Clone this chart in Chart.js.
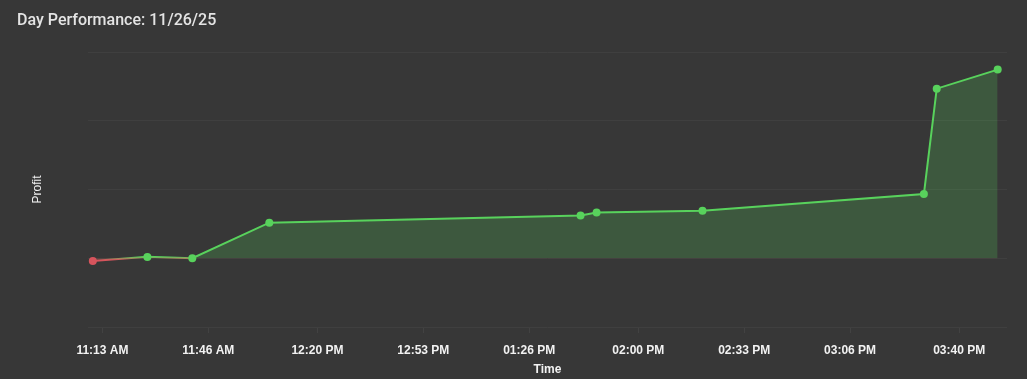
<!DOCTYPE html>
<html>
<head>
<meta charset="utf-8">
<title>Day Performance</title>
<script src="https://cdn.jsdelivr.net/npm/chart.js@4.4.1/dist/chart.umd.min.js"></script>
<style>
    html, body { margin: 0; padding: 0; background: #373737; }
    #perfCanvas { display: block; }
</style>
</head>
<body>
<canvas id="perfCanvas" width="1027" height="379"></canvas>
<script>
// trade times (24h) and running profit after each trade
const tradeTimes = ["11:10", "11:27", "11:41", "12:05", "13:42", "13:47", "14:20", "15:29", "15:33", "15:52"];
const profitValues = [-4, 2, 0, 51.7, 62.3, 66.7, 69.1, 93.4, 246.7, 274.4];

// x axis tick labels as shown under the chart
const tickLabels = ["11:13 AM", "11:46 AM", "12:20 PM", "12:53 PM", "01:26 PM", "02:00 PM", "02:33 PM", "03:06 PM", "03:40 PM"];

// axis range (minutes after midnight / profit)
const xRange = [668.5, 954.9];
const yRange = [-100, 300];

const GREEN = "rgb(88, 210, 92)";
const RED = "rgb(214, 84, 92)";

function toMinutes(str) {
    const parts = str.split(":").map(Number);
    return parts[0] * 60 + parts[1];
}

function labelToMinutes(label) {
    const [hm, ampm] = label.split(" ");
    let [h, m] = hm.split(":").map(Number);
    if (ampm === "PM" && h !== 12) h += 12;
    if (ampm === "AM" && h === 12) h = 0;
    return h * 60 + m;
}

const points = tradeTimes.map((t, i) => ({ x: toMinutes(t), y: profitValues[i] }));
const tickValues = tickLabels.map(labelToMinutes);

// line is green above zero and red below, with a soft blend around zero
function lineColor(ctx) {
    const chart = ctx.chart;
    if (!chart.chartArea || !chart.scales.y) return GREEN;
    const y0 = chart.scales.y.getPixelForValue(0);
    const g = chart.ctx.createLinearGradient(0, y0 - 1.5, 0, y0 + 1.5);
    g.addColorStop(0, GREEN);
    g.addColorStop(1, RED);
    return g;
}

const canvas = document.getElementById("perfCanvas");
new Chart(canvas.getContext("2d"), {
    type: "line",
    data: {
        datasets: [{
            label: "Profit",
            data: points,
            borderColor: lineColor,
            borderWidth: 2,
            tension: 0,
            pointRadius: 4,
            pointHoverRadius: 4,
            pointBorderWidth: 0,
            pointBackgroundColor: ctx => (ctx.raw && ctx.raw.y < 0 ? RED : GREEN),
            fill: {
                target: "origin",
                above: "rgba(88, 210, 92, 0.22)",
                below: "rgba(214, 84, 92, 0.22)"
            }
        }]
    },
    options: {
        responsive: false,
        animation: false,
        layout: { padding: { left: 17, right: 20, top: 0, bottom: 0 } },
        plugins: {
            legend: { display: false },
            tooltip: { enabled: false },
            title: {
                display: true,
                text: "Day Performance: 11/26/25",
                align: "start",
                color: "#e4e4e4",
                font: { family: "Roboto", size: 16, weight: "500" },
                padding: { top: 11, bottom: 21.8 }
            }
        },
        scales: {
            x: {
                type: "linear",
                min: xRange[0],
                max: xRange[1],
                afterBuildTicks: scale => {
                    scale.ticks = tickValues.map(v => ({ value: v }));
                },
                afterFit: scale => { scale.height = 52; },
                ticks: {
                    autoSkip: false,
                    maxRotation: 0,
                    padding: 10,
                    color: "#f2f2f2",
                    font: { family: "Liberation Sans", size: 12, weight: "bold" },
                    callback: (value, index) => tickLabels[index]
                },
                grid: {
                    drawOnChartArea: false,
                    drawTicks: true,
                    tickLength: 6,
                    color: "#424242"
                },
                border: { display: false },
                title: {
                    display: true,
                    text: "Time",
                    color: "#f2f2f2",
                    font: { family: "Liberation Sans", size: 12, weight: "bold" },
                    padding: { top: 5.2, bottom: 2 }
                }
            },
            y: {
                min: yRange[0],
                max: yRange[1],
                afterFit: scale => { scale.width = 71; },
                ticks: { display: false, stepSize: 100 },
                grid: { color: "#3f3f3f", drawTicks: false, lineWidth: 1 },
                border: { display: false },
                title: {
                    display: true,
                    text: "Profit",
                    color: "#f2f2f2",
                    font: { family: "Liberation Sans", size: 12, weight: "normal" },
                    padding: { top: 13.3, bottom: 43.3 }
                }
            }
        }
    }
});
</script>
</body>
</html>
